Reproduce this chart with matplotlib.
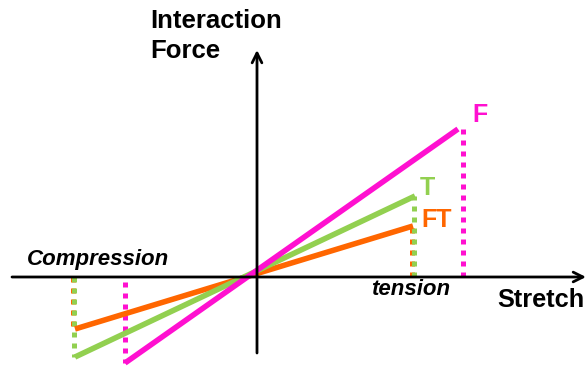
import matplotlib.pyplot as plt

plt.rcParams['font.family'] = ['Liberation Sans', 'DejaVu Sans']

# curve end points (stretch, force); origin at axis crossing
stretch_F = [-132, 201]
force_F = [-86, 148]
stretch_T = [-182, 158]
force_T = [-80, 81]
stretch_FT = [-182, 156]
force_FT = [-52, 51]

# dotted drop lines at the ends (x, y_from, y_to)
drops_F = [(-132, -5, -86), (206, 0, 148)]
drops_T = [(-183, 0, -80), (157, 0, 81)]
drops_FT = [(-184, 0, -52), (155, 0, 51)]

magenta = '#FF10D0'
green = '#92D050'
orange = '#FF6600'

fig = plt.figure(figsize=(5.87, 3.66), dpi=100)
ax = fig.add_axes([0, 0, 1, 1])
ax.set_xlim(-257, 330)
ax.set_ylim(-89, 277)
ax.axis('off')

# axes with open arrow heads
arrow = dict(arrowstyle='->,head_length=0.7,head_width=0.35', lw=2, color='black',
             shrinkA=0, shrinkB=0)
ax.annotate('', xy=(329, 0), xytext=(-245, 0), arrowprops=arrow)
ax.annotate('', xy=(0, 227), xytext=(0, -76), arrowprops=arrow)

# dotted drop lines
for drops, col in [(drops_FT, orange), (drops_T, green), (drops_F, magenta)]:
    for x, y0, y1 in drops:
        ax.plot([x, x], [y0, y1], color=col, lw=3.6, dashes=(1, 1.2),
                dash_capstyle='butt')

# force lines
ax.plot(stretch_FT, force_FT, color=orange, lw=4, solid_capstyle='butt')
ax.plot(stretch_T, force_T, color=green, lw=4, solid_capstyle='butt')
ax.plot(stretch_F, force_F, color=magenta, lw=4, solid_capstyle='butt')

# labels
ax.text(-107, 268, 'Interaction\nForce', fontsize=18.5, fontweight='bold',
        ha='left', va='top', linespacing=1.32)
ax.text(240, -30, 'Stretch', fontsize=18.3, fontweight='bold', ha='left',
        va='baseline')
ax.text(-230, 12, 'Compression', fontsize=16, fontweight='bold',
        fontstyle='italic', ha='left', va='baseline')
ax.text(114, -18, 'tension', fontsize=16, fontweight='bold',
        fontstyle='italic', ha='left', va='baseline')
ax.text(215, 155, 'F', fontsize=18, fontweight='bold', color=magenta,
        ha='left', va='baseline')
ax.text(163, 82, 'T', fontsize=18, fontweight='bold', color=green,
        ha='left', va='baseline')
ax.text(164, 50, 'FT', fontsize=18, fontweight='bold', color=orange,
        ha='left', va='baseline')

fig.savefig('out.png', dpi=100)
